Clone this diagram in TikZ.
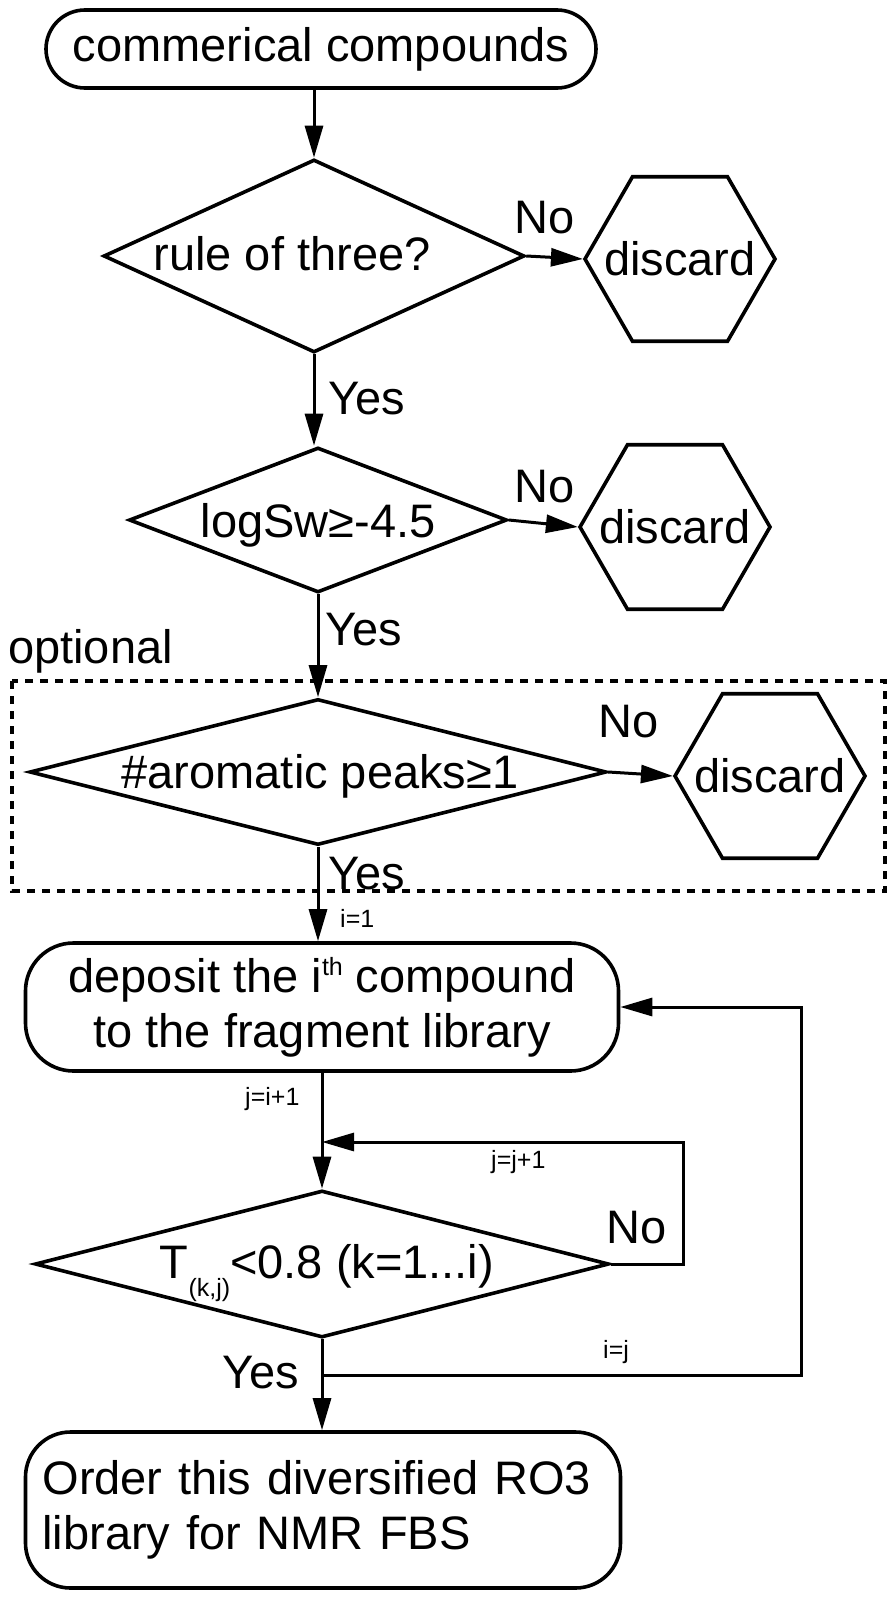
\documentclass[tikz,border=0pt]{standalone}
\usepackage{fontspec}
\setmainfont{Liberation Sans}
\usetikzlibrary{shapes.geometric,arrows.meta}
\newcommand\bigf{\fontsize{47}{55}\selectfont}
\newcommand\smallf{\fontsize{25}{28}\selectfont}
\begin{document}
\begin{tikzpicture}[x=1pt,y=-1pt,
  every node/.style={font=\bigf},
  shp/.style={draw, line width=3.6pt, inner sep=0pt},
  rbox/.style={shp, rectangle, rounded corners=#1},
  dia/.style={shp, diamond},
  hexa/.style={shp, regular polygon, regular polygon sides=6, minimum size=190pt},
  txt/.style={inner sep=0pt, anchor=base},
  lbl/.style={inner sep=0pt, anchor=base west},
  slbl/.style={inner sep=0pt, anchor=base west, font=\smallf},
  conn/.style={line width=3pt},
  arr/.style={conn, -{Triangle[length=32pt,width=18pt]}}
]
\useasboundingbox (0,0) rectangle (896,1600);

% nodes
\node[rbox=39pt, minimum width=550pt, minimum height=78pt] (start) at (321,49) {commerical compounds};

\node[dia, minimum width=421pt, minimum height=193pt] (d1) at (314,256) {};
\node[txt] (d1t) at (292,270) {rule of three?};
\node[hexa] (h1) at (680,259) {\makebox[0pt]{discard}};

\node[dia, minimum width=378pt, minimum height=145pt] (d2) at (318,520) {};
\node[txt] (d2t) at (318,537) {logSw≥-4.5};
\node[hexa] (h2) at (675,527) {\makebox[0pt]{discard}};

\node[dia, minimum width=577pt, minimum height=146pt] (d3) at (318,772) {};
\node[txt] (d3t) at (320,788) {\#aromatic peaks≥1};
\node[hexa] (h3) at (770,776) {\makebox[0pt]{discard}};

\draw[line width=3.6pt, dash pattern=on 8pt off 7pt] (12,681) rectangle (885,891);
\node[lbl] (opt) at (8,663) {optional};

\node[rbox=48pt, minimum width=593pt, minimum height=128pt, align=center] (dep) at (322,1007)
  {deposit the i\raisebox{17pt}{\smallf th} compound\\to the fragment library};

\node[dia, minimum width=574pt, minimum height=147pt] (d4) at (322,1264) {};
\node[txt] (d4t) at (327,1278) {T\raisebox{-18pt}{\smallf (k,j)}<0.8 (k=1...i)};

\node[rbox=45pt, minimum width=595pt, minimum height=156pt, text width=561pt, align=left] (fin) at (323,1510)
  {Order this diversified RO3\\library for NMR FBS};

% connectors
\draw[arr] (start.south -| d1.north) -- (d1.north);
\draw[arr] (d1.east) -- (h1.west);
\node[lbl] (no1) at (514,233) {No};
\draw[arr] (d1.south) -- (d1.south |- d2.north);
\node[lbl] (yes1) at (328,414) {Yes};

\draw[arr] (d2.east) -- (h2.west);
\node[lbl] (no2) at (514,502) {No};
\draw[arr] (d2.south) -- (d2.south |- d3.north);
\node[lbl] (yes2) at (325,645) {Yes};

\draw[arr] (d3.east) -- (h3.west);
\node[lbl] (no3) at (598,737) {No};
\draw[arr] (d3.south) -- (d3.south |- dep.north);
\node[lbl] (yes3) at (328,889) {Yes};
\node[slbl] (i1) at (340,927) {i=1};

\draw[arr] (dep.south) -- (dep.south |- d4.north);
\node[slbl] (jinit) at (245,1105) {j=i+1};

\coordinate (jin) at (d4.north |- 0,1142);
\draw[arr] (d4.east) -| (683,1142) -- (jin);
\node[lbl] (no4) at (606,1243) {No};
\node[slbl] (jinc) at (491,1168) {j=j+1};

\draw[arr] (d4.south) -- (d4.south |- fin.north);
\node[lbl] (yes4) at (222,1388) {Yes};

\coordinate (ij) at (d4.south |- 0,1375);
\draw[arr] (ij) -- (801,1375) |- (dep.east);
\node[slbl] (iset) at (603,1358) {i=j};
\end{tikzpicture}
\end{document}
